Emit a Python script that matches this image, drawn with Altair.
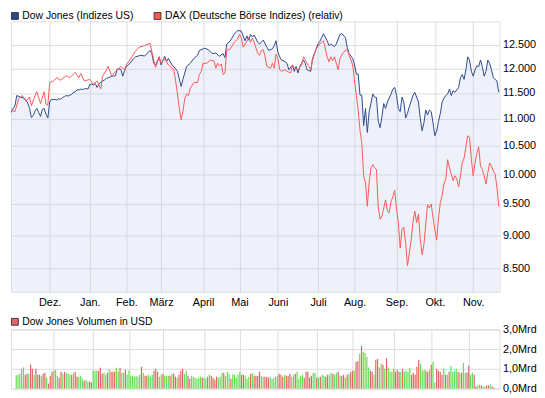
import altair as alt
import pandas as pd

# ---------------- data (trading-day index, value) ----------------
dow = [(0, 11124), (2, 11260), (3, 11449), (5, 11418), (7, 11400), (8, 11370), (9, 11300),
       (10, 11200), (11, 11026), (12, 11060), (13, 11150), (14, 11198), (15, 11120), (16, 11044),
       (17, 11180), (18, 11198), (19, 11090), (20, 11013), (21, 11323), (22, 11374), (23, 11370),
       (24, 11374), (25, 11360), (26, 11386), (27, 11380), (28, 11410), (29, 11430), (30, 11449),
       (31, 11440), (32, 11455), (33, 11470), (34, 11513), (35, 11520), (36, 11565), (37, 11560),
       (38, 11577), (39, 11570), (40, 11580), (41, 11590), (42, 11577), (43, 11670), (44, 11675),
       (45, 11660), (46, 11690), (47, 11610), (48, 11680), (49, 11720), (50, 11740), (51, 11760),
       (52, 11790), (53, 11806), (54, 11820), (55, 11838), (56, 11840), (57, 11845), (58, 11983),
       (59, 11983), (60, 11980), (61, 11838), (62, 11950), (63, 12037), (64, 12070), (65, 12103),
       (66, 12150), (67, 12205), (68, 12239), (71, 12273), (73, 12255), (76, 12375), (77, 12307),
       (78, 12103), (79, 12070), (81, 12239), (82, 12070), (84, 12252), (85, 12137), (86, 12205),
       (88, 12070), (89, 12037), (91, 11937), (93, 11630), (94, 11773), (96, 12037), (98, 12103),
       (100, 12205), (102, 12273), (103, 12375), (106, 12423), (108, 12389), (110, 12307),
       (112, 12320), (114, 12252), (116, 12307), (117, 12225), (118, 12513), (120, 12583),
       (122, 12723), (124, 12808), (126, 12794), (128, 12583), (129, 12688), (130, 12597),
       (131, 12723), (132, 12667), (133, 12709), (135, 12548), (136, 12513), (138, 12597),
       (140, 12444), (141, 12375), (143, 12409), (144, 12478), (145, 12583), (146, 12341),
       (147, 12239), (148, 12171), (150, 12137), (151, 12103), (152, 11970), (154, 12070),
       (155, 11937), (156, 12037), (157, 11904), (158, 12037), (160, 12171), (161, 12103),
       (162, 11970), (164, 11937), (165, 12205), (167, 12409), (168, 12513), (169, 12569),
       (171, 12737), (173, 12583), (174, 12478), (175, 12513), (177, 12458), (178, 12513),
       (180, 12723), (181, 12737), (183, 12653), (184, 12444), (185, 12307), (187, 12205),
       (188, 12070), (189, 11880), (190, 11880), (191, 11460), (192, 11450), (193, 10870),
       (194, 11198), (195, 10743), (196, 11136), (197, 11300), (198, 11481), (199, 11418),
       (200, 11410), (201, 10953), (202, 10833), (203, 11044), (204, 11292), (205, 11198),
       (206, 11323), (208, 11481), (209, 11577), (210, 11610), (211, 11449), (212, 11198),
       (213, 11136), (214, 11418), (215, 11323), (216, 11013), (217, 11105), (218, 11229),
       (220, 11449), (221, 11513), (222, 11418), (223, 11323), (224, 11013), (225, 10773),
       (226, 10923), (227, 11167), (228, 11074), (229, 11167), (230, 11136), (231, 10923),
       (232, 10684), (233, 10773), (234, 10953), (235, 11105), (236, 11323), (237, 11400),
       (238, 11449), (239, 11481), (240, 11577), (241, 11449), (242, 11545), (243, 11513),
       (245, 11610), (246, 11806), (247, 11871), (248, 11773), (249, 11970), (250, 12240),
       (251, 12171), (252, 11937), (253, 11838), (254, 11970), (255, 12050), (256, 12037),
       (257, 12171), (258, 12037), (259, 11838), (260, 11937), (261, 12171), (262, 12103),
       (263, 11970), (264, 11806), (265, 11773), (266, 11740), (267, 11513)]

dax = [(0, 11167), (2, 11136), (4, 11386), (6, 11449), (8, 11336), (10, 11418), (11, 11248),
       (13, 11449), (14, 11525), (16, 11292), (18, 11525), (19, 11273), (20, 11260), (21, 11708),
       (23, 11740), (25, 11806), (27, 11753), (30, 11851), (32, 11806), (35, 11917), (37, 11806),
       (38, 11891), (40, 11740), (43, 11773), (45, 11675), (47, 11740), (49, 11577), (50, 11838),
       (52, 11957), (53, 12037), (55, 11838), (57, 11937), (60, 12037), (62, 11970), (63, 12070),
       (66, 12239), (68, 12360), (70, 12444), (73, 12478), (76, 12527), (78, 12171), (79, 12017),
       (81, 12239), (82, 12103), (84, 12205), (86, 12070), (87, 12037), (89, 11970), (90, 11740),
       (91, 11481), (92, 11198), (93, 10983), (94, 11136), (95, 11386), (96, 11481), (97, 11449),
       (98, 11590), (100, 11708), (102, 11708), (103, 11871), (104, 11937), (105, 12103),
       (107, 12103), (109, 12171), (111, 12150), (112, 12003), (113, 12103), (114, 12050),
       (115, 12090), (116, 11871), (117, 11904), (118, 12375), (120, 12409), (122, 12548),
       (124, 12618), (125, 12723), (126, 12653), (127, 12444), (129, 12569), (130, 12653),
       (131, 12548), (132, 12639), (133, 12548), (135, 12307), (136, 12273), (137, 12375),
       (138, 12389), (139, 12239), (140, 12037), (142, 12003), (143, 12103), (144, 12003),
       (145, 12293), (146, 12205), (147, 11970), (148, 11937), (150, 11970), (151, 11937),
       (153, 11904), (154, 12070), (155, 12003), (157, 11970), (159, 12070), (160, 12239),
       (161, 12171), (163, 12037), (164, 11970), (165, 12171), (167, 12409), (169, 12513),
       (170, 12548), (171, 12583), (173, 12239), (174, 12137), (175, 12239), (176, 12157),
       (177, 12239), (179, 11970), (180, 12205), (182, 12341), (184, 12396), (185, 12273),
       (187, 12070), (188, 11740), (189, 11449), (190, 11167), (191, 10773), (192, 10537),
       (193, 9970), (194, 9850), (195, 9459), (196, 9850), (197, 10109), (198, 10165),
       (199, 10109), (200, 10081), (201, 9433), (202, 9251), (203, 9303), (204, 9433),
       (205, 9565), (206, 9381), (207, 9355), (208, 9538), (209, 9618), (210, 9725),
       (211, 9407), (212, 9200), (213, 8801), (214, 9099), (215, 9124), (216, 8874),
       (217, 8536), (218, 8728), (219, 8923), (220, 9200), (221, 9381), (222, 9200),
       (223, 9330), (224, 8948), (225, 8704), (226, 8850), (227, 9175), (228, 9485),
       (229, 9433), (230, 9496), (231, 9277), (232, 9074), (233, 8923), (234, 9277),
       (235, 9520), (236, 9644), (237, 9833), (238, 9915), (239, 10250), (240, 10109),
       (241, 9997), (242, 9887), (243, 9970), (244, 9915), (245, 9779), (246, 9970),
       (247, 10193), (248, 10278), (249, 10479), (250, 10684), (251, 10650), (252, 10250),
       (253, 9970), (254, 10193), (255, 10364), (256, 10479), (257, 10137), (258, 10081),
       (259, 9970), (260, 9833), (261, 10025), (262, 10193), (263, 10137), (264, 10053),
       (265, 9997), (266, 9779), (267, 9459)]

# daily volume in Mrd USD (one per trading day, index 0..267)
vol_val = [
    .67, .70, .75, 1.00, 1.07, .70, .75, .75, 1.21, 1.00,
    .70, 1.00, .70, .70, .65, .75, .80, .55, .25, .65,
    .85, .90, .95, .65, .55, .85, .75, .85, .80, .75,
    .70, .70, .80, .85, .60, .60, .65, .50, .40, .45,
    .35, .35, .30, .90, .90, .90, .90, 1.05, .75, .80,
    .70, .80, .95, .85, .85, .85, 1.05, .85, 1.05, .80,
    .80, .95, .70, .90, .65, .65, .60, .65, .60, .70,
    1.10, .80, .65, .65, .70, .60, .70, .90, 1.00, .85,
    .60, .70, .75, .65, .65, .65, .65, .75, .75, .60,
    .55, .70, .90, 1.00, .75, .90, .65, .50, .65, .60,
    .55, .50, .55, .60, .55, .55, .50, .60, .70, .65,
    .55, .45, .60, .55, .60, .80, .80, .65, .85, .75,
    .50, .70, .70, .55, .70, .85, .70, .70, .65, .50,
    .60, .75, .80, .65, .65, .65, .85, .65, .60, .60,
    .60, .55, .60, .50, .55, .60, .65, .75, .70, .60,
    .70, .65, .65, .75, .60, .70, .75, .85, .50, .65,
    .70, .55, .85, .85, .55, .65, .80, .80, .55, .55,
    .60, .70, .65, .60, .70, .70, .80, .75, .70, .80,
    .85, .65, .65, .70, .55, .70, .75, .85, .90, .90,
    1.36, 1.40, 1.76, 2.16, 1.86, 1.80, 1.60, 1.07, .90, .85,
    .70, 1.46, 1.50, 1.07, 1.26, 1.20, 1.00, 1.54, 1.07, .85,
    .85, 1.00, .85, .95, .85, .85, 1.00, .85, .90, .85,
    1.05, .70, .80, .70, 1.10, 1.46, 1.24, .90, .95, .90,
    .85, .95, 1.20, 1.36, .30, 1.00, .90, .85, .70, 1.00,
    .70, .70, .85, 1.15, .85, .90, 1.00, .85, .80, .80,
    1.30, .80, .80, 1.15, .70, .80, .70, .10, .15, .20,
    .15, .10, .10, .15, .15, .20, .10, .05]
# g = up day, r = down day
vol_dir = ("gggggrrgrr" "grrrgrrgrr" "rgggrrgrgg" "grgrrgggrg" "grrgggrrrg"
           "grgrrrggrg" "grgggggggg" "rgrrgggrrr" "ggrgggrgrr" "grrrggrrgg"
           "ggggrggrgr" "rrrgggrggg" "rgggggrrgg" "grgrrrrggr" "rrgggggrrr"
           "grrrggrggg" "grrrrrggrg" "rggrrggrgg" "rgrrgrgrrg" "rrgrggggrr"
           "grrggrgrgg" "ggrrrgrggg" "grrrrrgggr" "rgrggrrrrg" "rgrggggrgr"
           "ggrrggrrgg" "rggrrgrr")

month_idx = [21, 43, 63, 82, 105, 125, 146, 168, 188, 211, 232, 253]
month_names = ["Dez.", "Jan.", "Feb.", "März", "April", "Mai", "Juni", "Juli",
               "Aug.", "Sep.", "Okt.", "Nov."]
price_ticks = [8500, 9000, 9500, 10000, 10500, 11000, 11500, 12000, 12500]
vol_ticks = [0, 1, 2, 3]
legend_top = ["Dow Jones (Indizes US)", "DAX (Deutsche Börse Indizes) (relativ)"]
legend_vol = ["Dow Jones Volumen in USD"]

# ---------------- styling ----------------
FONT = "Liberation Sans"
W, H1, H2 = 495, 274, 60
X_DOMAIN = [-0.2, 267.4]
Y_DOMAIN = [8163, 13010]
BLUE, RED = "#2c4a8a", "#ff5757"
GREEN_BAR, RED_BAR = "#66dd55", "#e06464"
GRID = "#dcdcdc"

df_dow = pd.DataFrame(dow, columns=["i", "v"])
df_dax = pd.DataFrame(dax, columns=["i", "v"])
df_vol = pd.DataFrame({"i": list(range(len(vol_val))), "v": vol_val, "d": list(vol_dir)})

xscale = alt.Scale(domain=X_DOMAIN, nice=False, zero=False)
x_label_expr = ("[" + ",".join(f"'{m}'" for m in month_names) + "][indexof(["
                + ",".join(str(m) for m in month_idx) + "], datum.value)]")

x_top = alt.X("i:Q", scale=xscale, axis=alt.Axis(
    values=month_idx, labelExpr=x_label_expr, title=None, grid=True, gridColor=GRID,
    ticks=False, domain=False, labelPadding=5, labelFont=FONT, labelFontSize=11,
    labelColor="#000", labelFlush=False, labelOverlap=False))
y_top = alt.Y("v:Q", scale=alt.Scale(type="log", domain=Y_DOMAIN, nice=False, zero=False),
              axis=alt.Axis(orient="right", values=price_ticks,
                            labelExpr="replace(format(datum.value, ','), ',', '.')",
                            title=None, grid=True, gridColor=GRID, ticks=False, domain=False,
                            labelPadding=3, labelFont=FONT, labelFontSize=11, labelColor="#000"))

area = alt.Chart(df_dow).mark_area(color="#c3cdee", opacity=0.28).encode(
    x=x_top, y=y_top, y2=alt.datum(Y_DOMAIN[0]))
dow_line = alt.Chart(df_dow).mark_line(color=BLUE, strokeWidth=1).encode(x=x_top, y=y_top)
dax_line = alt.Chart(df_dax).mark_line(color=RED, strokeWidth=1).encode(x=x_top, y=y_top)


def legend_item(label, color, sx, ly):
    d = pd.DataFrame({"label": [label]})
    sw = alt.Chart(d).mark_rect(color=color, stroke="#222", strokeWidth=0.8).encode(
        x=alt.value(sx), x2=alt.value(sx + 7), y=alt.value(ly - 3.5), y2=alt.value(ly + 3.5))
    tx = alt.Chart(d).mark_text(align="left", baseline="middle", font=FONT, fontSize=10.5,
                                color="#000").encode(
        x=alt.value(sx + 11), y=alt.value(ly), text="label:N")
    return sw + tx


top = alt.layer(
    area, dow_line, dax_line,
    legend_item(legend_top[0], BLUE, 0.5, -5.5),
    legend_item(legend_top[1], RED, 145, -5.5),
).properties(width=W, height=H1)

x_bot = alt.X("i:Q", scale=xscale, axis=alt.Axis(
    values=month_idx, labels=False, title=None, grid=True, gridColor=GRID,
    ticks=False, domain=False))
y_bot = alt.Y("v:Q", scale=alt.Scale(domain=[0, 3], nice=False),
              axis=alt.Axis(orient="right", values=vol_ticks,
                            labelExpr="replace(format(datum.value, '.1f'), '.', ',') + 'Mrd'",
                            title=None, grid=True, gridColor=GRID, ticks=False, domain=False,
                            labelPadding=3, labelFont=FONT, labelFontSize=11, labelColor="#000"))
bars = alt.Chart(df_vol).mark_bar(size=1.2).encode(
    x=x_bot, y=y_bot,
    color=alt.Color("d:N", scale=alt.Scale(domain=["g", "r"], range=[GREEN_BAR, RED_BAR]),
                    legend=None))

bottom = alt.layer(
    bars,
    legend_item(legend_vol[0], RED_BAR, 0.5, -7.6),
).properties(width=W, height=H2)

chart = alt.vconcat(top, bottom, spacing=7).properties(padding=0).configure_view(
    stroke="#d4d4d4", strokeWidth=1).configure(font=FONT)

chart.save("out.html", embed_options={"renderer": "svg", "actions": False})
